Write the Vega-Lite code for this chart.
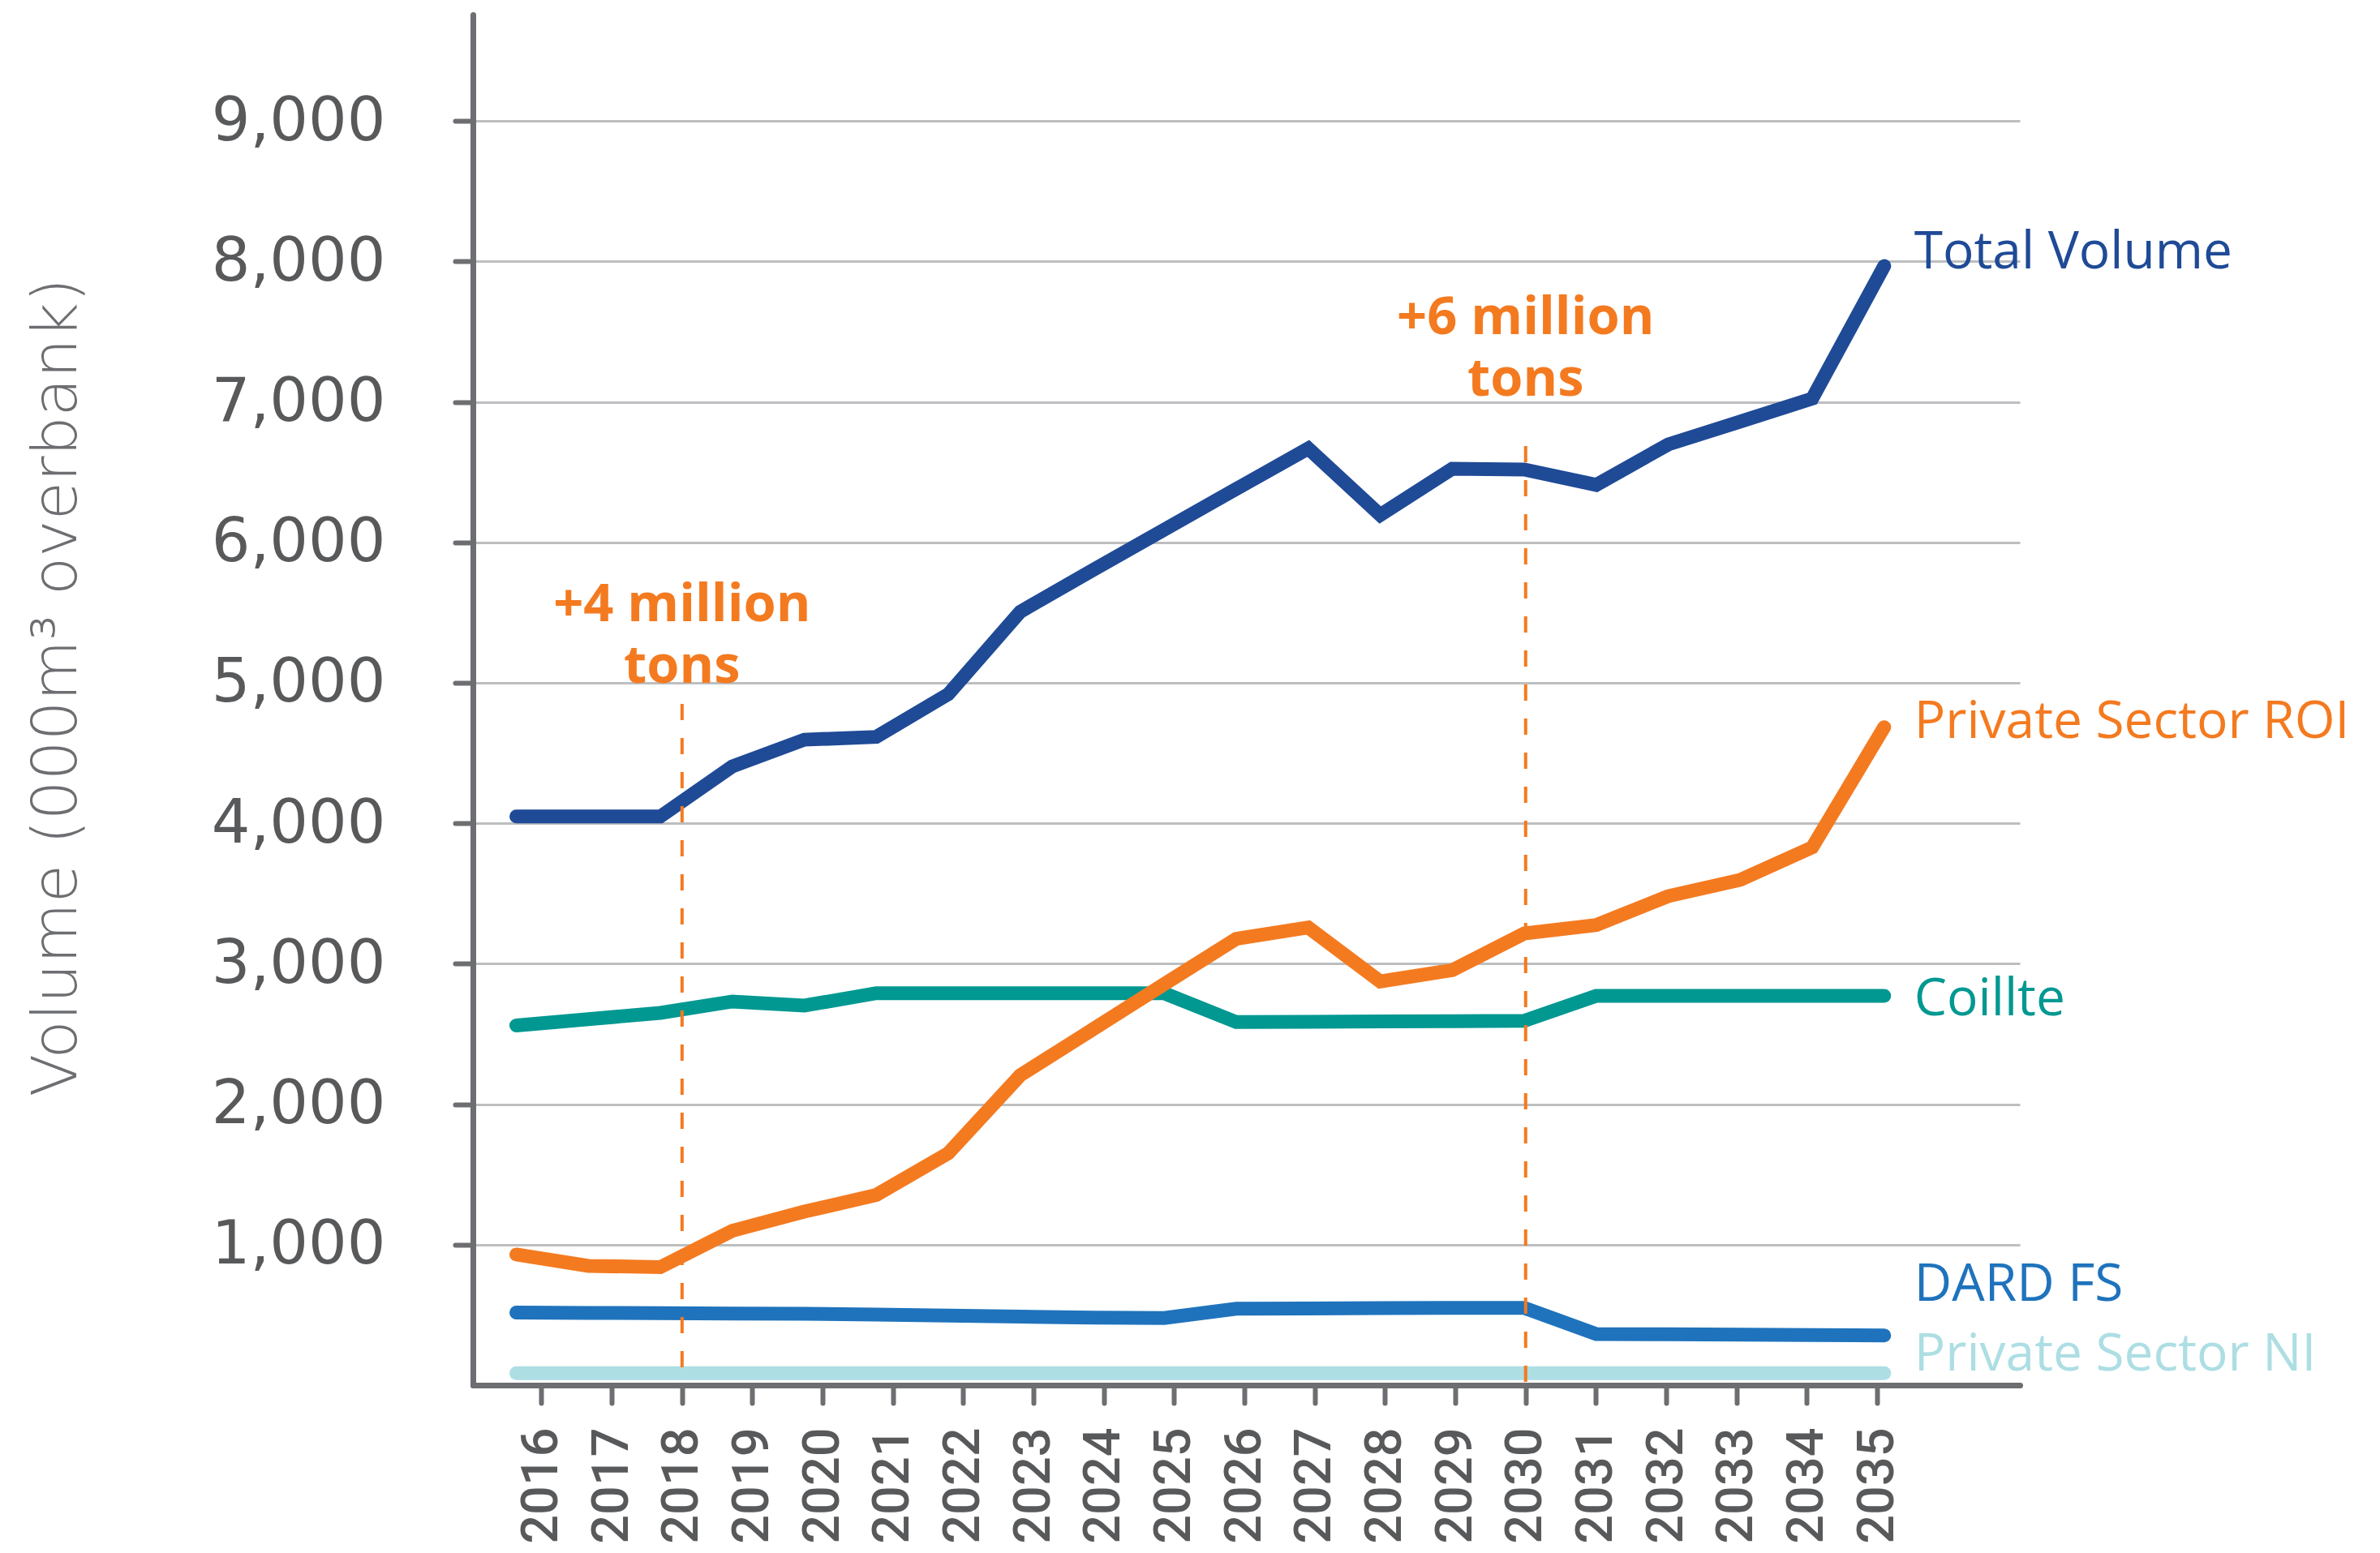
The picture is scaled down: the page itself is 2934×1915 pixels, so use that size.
{
  "$schema": "https://vega.github.io/schema/vega-lite/v6.json",
  "width": 1907,
  "height": 1690,
  "autosize": {"type": "none"},
  "padding": {"left": 583, "top": 18, "right": 444, "bottom": 207},
  "background": "white",
  "config": {"view": {"stroke": null}},
  "datasets": {
    "volumes": [
      {"series": "Private Sector NI", "year": 2016, "value": 85},
      {"series": "Private Sector NI", "year": 2017, "value": 85},
      {"series": "Private Sector NI", "year": 2018, "value": 85},
      {"series": "Private Sector NI", "year": 2019, "value": 85},
      {"series": "Private Sector NI", "year": 2020, "value": 85},
      {"series": "Private Sector NI", "year": 2021, "value": 85},
      {"series": "Private Sector NI", "year": 2022, "value": 85},
      {"series": "Private Sector NI", "year": 2023, "value": 85},
      {"series": "Private Sector NI", "year": 2024, "value": 85},
      {"series": "Private Sector NI", "year": 2025, "value": 85},
      {"series": "Private Sector NI", "year": 2026, "value": 85},
      {"series": "Private Sector NI", "year": 2027, "value": 85},
      {"series": "Private Sector NI", "year": 2028, "value": 85},
      {"series": "Private Sector NI", "year": 2029, "value": 85},
      {"series": "Private Sector NI", "year": 2030, "value": 85},
      {"series": "Private Sector NI", "year": 2031, "value": 85},
      {"series": "Private Sector NI", "year": 2032, "value": 85},
      {"series": "Private Sector NI", "year": 2033, "value": 85},
      {"series": "Private Sector NI", "year": 2034, "value": 85},
      {"series": "Private Sector NI", "year": 2035, "value": 85},
      {"series": "DARD FS", "year": 2016, "value": 516},
      {"series": "DARD FS", "year": 2017, "value": 514},
      {"series": "DARD FS", "year": 2018, "value": 512},
      {"series": "DARD FS", "year": 2019, "value": 510},
      {"series": "DARD FS", "year": 2020, "value": 508},
      {"series": "DARD FS", "year": 2021, "value": 503},
      {"series": "DARD FS", "year": 2022, "value": 495},
      {"series": "DARD FS", "year": 2023, "value": 488},
      {"series": "DARD FS", "year": 2024, "value": 480},
      {"series": "DARD FS", "year": 2025, "value": 478},
      {"series": "DARD FS", "year": 2026, "value": 544},
      {"series": "DARD FS", "year": 2027, "value": 546},
      {"series": "DARD FS", "year": 2028, "value": 548},
      {"series": "DARD FS", "year": 2029, "value": 550},
      {"series": "DARD FS", "year": 2030, "value": 550},
      {"series": "DARD FS", "year": 2031, "value": 364},
      {"series": "DARD FS", "year": 2032, "value": 362},
      {"series": "DARD FS", "year": 2033, "value": 360},
      {"series": "DARD FS", "year": 2034, "value": 357},
      {"series": "DARD FS", "year": 2035, "value": 354},
      {"series": "Coillte", "year": 2016, "value": 2560},
      {"series": "Coillte", "year": 2017, "value": 2605},
      {"series": "Coillte", "year": 2018, "value": 2650},
      {"series": "Coillte", "year": 2019, "value": 2731},
      {"series": "Coillte", "year": 2020, "value": 2702},
      {"series": "Coillte", "year": 2021, "value": 2790},
      {"series": "Coillte", "year": 2022, "value": 2790},
      {"series": "Coillte", "year": 2023, "value": 2790},
      {"series": "Coillte", "year": 2024, "value": 2790},
      {"series": "Coillte", "year": 2025, "value": 2790},
      {"series": "Coillte", "year": 2026, "value": 2585},
      {"series": "Coillte", "year": 2027, "value": 2587},
      {"series": "Coillte", "year": 2028, "value": 2589},
      {"series": "Coillte", "year": 2029, "value": 2591},
      {"series": "Coillte", "year": 2030, "value": 2593},
      {"series": "Coillte", "year": 2031, "value": 2771},
      {"series": "Coillte", "year": 2032, "value": 2771},
      {"series": "Coillte", "year": 2033, "value": 2771},
      {"series": "Coillte", "year": 2034, "value": 2771},
      {"series": "Coillte", "year": 2035, "value": 2771},
      {"series": "Private Sector ROI", "year": 2016, "value": 930},
      {"series": "Private Sector ROI", "year": 2017, "value": 849},
      {"series": "Private Sector ROI", "year": 2018, "value": 840},
      {"series": "Private Sector ROI", "year": 2019, "value": 1099},
      {"series": "Private Sector ROI", "year": 2020, "value": 1235},
      {"series": "Private Sector ROI", "year": 2021, "value": 1354},
      {"series": "Private Sector ROI", "year": 2022, "value": 1651},
      {"series": "Private Sector ROI", "year": 2023, "value": 2206},
      {"series": "Private Sector ROI", "year": 2024, "value": 2530},
      {"series": "Private Sector ROI", "year": 2025, "value": 2855},
      {"series": "Private Sector ROI", "year": 2026, "value": 3177},
      {"series": "Private Sector ROI", "year": 2027, "value": 3258},
      {"series": "Private Sector ROI", "year": 2028, "value": 2874},
      {"series": "Private Sector ROI", "year": 2029, "value": 2954},
      {"series": "Private Sector ROI", "year": 2030, "value": 3215},
      {"series": "Private Sector ROI", "year": 2031, "value": 3275},
      {"series": "Private Sector ROI", "year": 2032, "value": 3481},
      {"series": "Private Sector ROI", "year": 2033, "value": 3597},
      {"series": "Private Sector ROI", "year": 2034, "value": 3828},
      {"series": "Private Sector ROI", "year": 2035, "value": 4684},
      {"series": "Total Volume", "year": 2016, "value": 4048},
      {"series": "Total Volume", "year": 2017, "value": 4048},
      {"series": "Total Volume", "year": 2018, "value": 4048},
      {"series": "Total Volume", "year": 2019, "value": 4405},
      {"series": "Total Volume", "year": 2020, "value": 4595},
      {"series": "Total Volume", "year": 2021, "value": 4615},
      {"series": "Total Volume", "year": 2022, "value": 4919},
      {"series": "Total Volume", "year": 2023, "value": 5506},
      {"series": "Total Volume", "year": 2024, "value": 5800},
      {"series": "Total Volume", "year": 2025, "value": 6090},
      {"series": "Total Volume", "year": 2026, "value": 6380},
      {"series": "Total Volume", "year": 2027, "value": 6668},
      {"series": "Total Volume", "year": 2028, "value": 6195},
      {"series": "Total Volume", "year": 2029, "value": 6524},
      {"series": "Total Volume", "year": 2030, "value": 6518},
      {"series": "Total Volume", "year": 2031, "value": 6409},
      {"series": "Total Volume", "year": 2032, "value": 6697},
      {"series": "Total Volume", "year": 2033, "value": 6860},
      {"series": "Total Volume", "year": 2034, "value": 7023},
      {"series": "Total Volume", "year": 2035, "value": 7967}
    ],
    "markers": [
      {"year": 2018, "top": 4850, "text": ["+4 million", "tons"]},
      {"year": 2030, "top": 6686, "text": ["+6 million", "tons"]}
    ]
  },
  "layer": [
    {
      "data": {"name": "volumes"},
      "encoding": {
        "x": {"field": "year", "type": "quantitative", "scale": {"domain": [2015.397, 2036.884], "nice": false, "zero": false}, "axis": null},
        "y": {
          "field": "value", "type": "quantitative",
          "scale": {"domain": [0, 9757], "nice": false, "zero": true},
          "axis": {
            "values": [1000, 2000, 3000, 4000, 5000, 6000, 7000, 8000, 9000],
            "format": ",d", "title": "Volume (000m³ overbank)",
            "grid": true, "gridColor": "#bcbec0", "gridWidth": 3,
            "labelFont": "DejaVu Sans", "labelFontSize": 75, "labelColor": "#58595b", "labelPadding": 86, "labelLimit": 0,
            "tickSize": 22, "tickWidth": 6, "tickColor": "#6d6e71", "tickCap": "round",
            "domainColor": "#6d6e71", "domainWidth": 7, "domainCap": "round",
            "titleFont": "DejaVu Sans", "titleFontWeight": 200, "titleFontSize": 77, "titleColor": "#6d6e71",
            "titleX": -474, "titleY": 829, "titleAlign": "center", "titleBaseline": "bottom", "titleAngle": 270
          }
        }
      },
      "layer": [
        {
          "mark": {"type": "line", "strokeWidth": 17, "strokeCap": "round", "strokeJoin": "miter"},
          "encoding": {
            "color": {
              "field": "series", "type": "nominal", "legend": null,
              "scale": {
                "domain": ["Private Sector NI", "DARD FS", "Coillte", "Private Sector ROI", "Total Volume"],
                "range": ["#addee3", "#1f73bc", "#009891", "#f47a20", "#1f4a96"]
              }
            }
          }
        },
        {
          "transform": [{"filter": "datum.year == 2035 && datum.series == 'Total Volume'"}],
          "mark": {"type": "text", "align": "left", "baseline": "middle", "dx": 37, "dy": -16, "font": "Open Sans", "fontSize": 64, "fontWeight": 500, "color": "#1f4a96"},
          "encoding": {"text": {"field": "series"}}
        },
        {
          "transform": [{"filter": "datum.year == 2035 && datum.series == 'Private Sector ROI'"}],
          "mark": {"type": "text", "align": "left", "baseline": "middle", "dx": 37, "dy": -6, "font": "Open Sans", "fontSize": 64, "fontWeight": 500, "color": "#f47a20"},
          "encoding": {"text": {"field": "series"}}
        },
        {
          "transform": [{"filter": "datum.year == 2035 && datum.series == 'Coillte'"}],
          "mark": {"type": "text", "align": "left", "baseline": "middle", "dx": 37, "dy": 5, "font": "Open Sans", "fontSize": 64, "fontWeight": 500, "color": "#009891"},
          "encoding": {"text": {"field": "series"}}
        },
        {
          "transform": [{"filter": "datum.year == 2035 && datum.series == 'DARD FS'"}],
          "mark": {"type": "text", "align": "left", "baseline": "middle", "dx": 37, "dy": -62, "font": "Open Sans", "fontSize": 64, "fontWeight": 500, "color": "#1f73bc"},
          "encoding": {"text": {"field": "series"}}
        },
        {
          "transform": [{"filter": "datum.year == 2035 && datum.series == 'Private Sector NI'"}],
          "mark": {"type": "text", "align": "left", "baseline": "middle", "dx": 37, "dy": -22, "font": "Open Sans", "fontSize": 64, "fontWeight": 500, "color": "#addee3"},
          "encoding": {"text": {"field": "series"}}
        }
      ]
    },
    {
      "data": {"name": "markers"},
      "layer": [
        {
          "mark": {"type": "rule", "color": "#f47a20", "strokeWidth": 4, "strokeDash": [20, 22]},
          "encoding": {
            "x": {
              "field": "year", "type": "quantitative",
              "scale": {"domain": [2015.025, 2037.03], "nice": false, "zero": false},
              "axis": {
                "values": [2016, 2017, 2018, 2019, 2020, 2021, 2022, 2023, 2024, 2025, 2026, 2027, 2028, 2029, 2030, 2031, 2032, 2033, 2034, 2035],
                "format": "d", "title": null, "grid": false,
                "labelAngle": -90, "labelFont": "Roboto", "labelFontSize": 63, "labelFontWeight": 500, "labelColor": "#58595b",
                "labelPadding": 30, "labelOverlap": false, "labelFlush": false, "labelLimit": 0,
                "tickSize": 22, "tickWidth": 6, "tickColor": "#6d6e71", "tickCap": "round",
                "domainColor": "#6d6e71", "domainWidth": 7, "domainCap": "round"
              }
            },
            "y": {
              "field": "top", "type": "quantitative",
              "axis": {
                "values": [1000, 2000, 3000, 4000, 5000, 6000, 7000, 8000, 9000],
                "format": ",d", "title": "Volume (000m³ overbank)",
                "grid": true, "gridColor": "#bcbec0", "gridWidth": 3,
                "labelFont": "DejaVu Sans", "labelFontSize": 75, "labelColor": "#58595b", "labelPadding": 86, "labelLimit": 0,
                "tickSize": 22, "tickWidth": 6, "tickColor": "#6d6e71", "tickCap": "round",
                "domainColor": "#6d6e71", "domainWidth": 7, "domainCap": "round",
                "titleFont": "DejaVu Sans", "titleFontWeight": 200, "titleFontSize": 77, "titleColor": "#6d6e71",
                "titleX": -474, "titleY": 829, "titleAlign": "center", "titleBaseline": "bottom", "titleAngle": 270
              }
            },
            "y2": {"datum": 0}
          }
        },
        {
          "transform": [{"filter": "datum.year == 2018"}],
          "mark": {"type": "text", "align": "center", "baseline": "middle", "dy": -122, "lineHeight": 76, "font": "Open Sans", "fontSize": 65, "fontWeight": "bold", "color": "#f47a20"},
          "encoding": {
            "x": {"field": "year", "type": "quantitative"},
            "y": {"field": "top", "type": "quantitative", "title": "Volume (000m³ overbank)"},
            "text": {"field": "text"}
          }
        },
        {
          "transform": [{"filter": "datum.year == 2030"}],
          "mark": {"type": "text", "align": "center", "baseline": "middle", "dy": -158, "lineHeight": 76, "font": "Open Sans", "fontSize": 65, "fontWeight": "bold", "color": "#f47a20"},
          "encoding": {
            "x": {"field": "year", "type": "quantitative"},
            "y": {"field": "top", "type": "quantitative", "title": "Volume (000m³ overbank)"},
            "text": {"field": "text"}
          }
        }
      ]
    }
  ],
  "resolve": {"scale": {"x": "independent"}}
}
